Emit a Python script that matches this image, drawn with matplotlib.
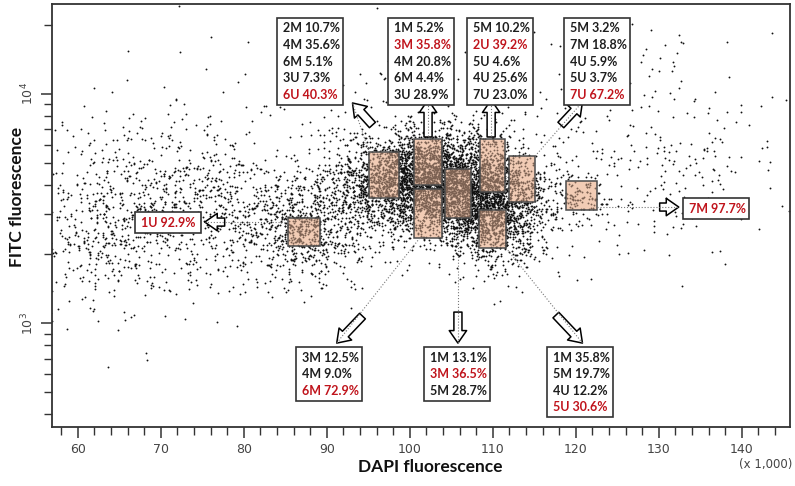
import numpy as np
import matplotlib
matplotlib.use("Agg")
import matplotlib.pyplot as plt
import matplotlib.transforms as mtransforms
from matplotlib.patches import Rectangle, FancyArrowPatch
from matplotlib.ticker import MultipleLocator, NullFormatter

# event cloud, described as a few populations (DAPI x1000, log10 FITC)
cloud_x = [104, 110, 97, 88, 72, 62, 128, 100, 120.5, 87.0]
cloud_sx = [4.5, 3.5, 3.8, 5.0, 8.0, 5.0, 9.0, 22.0, 1.6, 2.2]
cloud_logy = [3.62, 3.50, 3.62, 3.42, 3.50, 3.40, 3.70, 3.95, 3.56, 3.40]
cloud_sy = [0.11, 0.12, 0.10, 0.12, 0.18, 0.20, 0.22, 0.20, 0.06, 0.07]
cloud_n = [2800, 1800, 1000, 700, 850, 300, 250, 250, 110, 160]

# gates
gate_x0 = [85.3, 95.1, 100.5, 100.5, 104.3, 108.4, 108.3, 111.9, 118.8]
gate_x1 = [89.2, 98.7, 103.9, 103.9, 107.4, 111.5, 111.6, 115.1, 122.5]
gate_y0 = [2170, 3515, 4000, 2350, 2875, 3735, 2125, 3375, 3115]
gate_y1 = [2875, 5585, 6360, 3845, 4705, 6360, 3115, 5360, 4170]

# callouts
callout_text = [
    ["2M 10.7%", "4M 35.6%", "6M 5.1%", "3U 7.3%", "6U 40.3%"],
    ["1M 5.2%", "3M 35.8%", "4M 20.8%", "6M 4.4%", "3U 28.9%"],
    ["5M 10.2%", "2U 39.2%", "5U 4.6%", "4U 25.6%", "7U 23.0%"],
    ["5M 3.2%", "7M 18.8%", "4U 5.9%", "5U 3.7%", "7U 67.2%"],
    ["7M 97.7%"],
    ["1U 92.9%"],
    ["3M 12.5%", "4M 9.0%", "6M 72.9%"],
    ["1M 13.1%", "3M 36.5%", "5M 28.7%"],
    ["1M 35.8%", "5M 19.7%", "4U 12.2%", "5U 30.6%"],
]
callout_red = [4, 1, 1, 4, 0, 0, 2, 1, 3]
box_x = [84.0, 97.35, 106.9, 118.55, 132.9, 66.9, 86.3, 101.7, 116.5]
box_y = [21475, 21475, 21475, 21475, 3515, 3052, 786, 786, 786]

# arrows: tail -> head, and the gate point the dotted link starts from
arrow_x0 = [95.5, 102.2, 109.8, 118.2, 130.1, 77.7, 94.3, 105.8, 117.6]
arrow_y0 = [7320, 6490, 6490, 7320, 3210, 2760, 1073, 1117, 1084]
arrow_x1 = [93.1, 102.2, 109.8, 120.8, 132.4, 75.3, 91.2, 105.8, 120.8]
arrow_y1 = [9135, 9415, 9415, 9230, 3210, 2760, 818, 818, 818]
link_x = [95.1, 102.2, 109.8, 115.1, 122.5, 85.3, 101.2, 105.8, 111.6]
link_y = [5585, 6360, 6360, 5360, 3210, 2760, 2350, 2875, 2125]

rng = np.random.default_rng(7)
xs, ys = [], []
for cx, sx, cy, sy, n in zip(cloud_x, cloud_sx, cloud_logy, cloud_sy, cloud_n):
    xs.append(rng.normal(cx, sx, n))
    ys.append(10 ** rng.normal(cy, sy, n))
xs = np.concatenate(xs)
ys = np.concatenate(ys)

fig = plt.figure(figsize=(7.95, 4.86), dpi=100)
ax = fig.add_axes([0.0654, 0.1214, 0.9283, 0.8704])
ax.set_yscale("log")
ax.set_xlim(56.9, 145.8)
ax.set_ylim(352, 24700)

ax.scatter(xs, ys, s=1.8, c="#111111", linewidths=0, zorder=2)

for x0, x1, y0, y1 in zip(gate_x0, gate_x1, gate_y0, gate_y1):
    ax.add_patch(Rectangle((x0, y0), x1 - x0, y1 - y0, facecolor="#fce6d6",
                           edgecolor="none", zorder=1))
    ax.add_patch(Rectangle((x0, y0), x1 - x0, y1 - y0, facecolor="#e9b496",
                           alpha=0.5, edgecolor="none", zorder=3))
    ax.add_patch(Rectangle((x0, y0), x1 - x0, y1 - y0, facecolor="none",
                           edgecolor="#4a4a4a", lw=1.1, zorder=3.5))

txt_font = ["Lato", "DejaVu Sans"]
for i in range(len(callout_text)):
    # arrow and dotted link
    arr = FancyArrowPatch((arrow_x0[i], arrow_y0[i]), (arrow_x1[i], arrow_y1[i]),
                          arrowstyle="simple,head_length=0.9,head_width=1.25,tail_width=0.58",
                          mutation_scale=10, facecolor="white", edgecolor="black",
                          lw=1.1, shrinkA=0, shrinkB=0, zorder=6)
    ax.add_patch(arr)
    ax.plot([link_x[i], arrow_x1[i]], [link_y[i], arrow_y1[i]], ls=":", color="#777777",
            lw=0.8, zorder=7)

    # box
    lines = callout_text[i]
    w_px = 66
    h_px = len(lines) * 16.6 + 4
    trans = fig.dpi_scale_trans + mtransforms.ScaledTranslation(box_x[i], box_y[i], ax.transData)
    box = Rectangle((0, -h_px / 100), w_px / 100, h_px / 100, transform=trans,
                    facecolor="white", edgecolor="#333333", lw=1.2, zorder=8)
    ax.add_artist(box)
    for j, line in enumerate(lines):
        col = "#c0141c" if j == callout_red[i] else "#1e1e1e"
        ax.annotate(line, xy=(box_x[i], box_y[i]), xycoords="data",
                    xytext=(6 * 0.72, -(2 + 8.5 + j * 16.6) * 0.72), textcoords="offset points",
                    ha="left", va="center", fontsize=9.0, fontweight="bold",
                    family=txt_font, color=col, zorder=9)

# axes styling
for sp in ax.spines.values():
    sp.set_color("#333333")
    sp.set_linewidth(1.3)
ax.xaxis.set_major_locator(MultipleLocator(10))
ax.xaxis.set_minor_locator(MultipleLocator(2))
ax.yaxis.set_minor_formatter(NullFormatter())
ax.tick_params(which="both", direction="out", color="#333333", labelcolor="#444444")
ax.tick_params(which="major", length=8, width=1.1, labelsize=9)
ax.tick_params(which="minor", length=6, width=1.0)
ax.tick_params(axis="y", labelrotation=90)
for lab in ax.get_xticklabels() + ax.get_yticklabels():
    lab.set_family(["Liberation Sans Narrow", "DejaVu Sans"])
for lab in ax.get_yticklabels():
    lab.set_va("center")

ax.set_xlabel("DAPI fluorescence", fontsize=12.5, fontweight="bold", family=txt_font,
              color="#111111")
ax.set_ylabel("FITC fluorescence", fontsize=12.5, fontweight="bold", family=txt_font,
              color="#111111")
ax.xaxis.set_label_coords(0.512, -0.075)
ax.yaxis.set_label_coords(-0.037, 0.544)

fig.text(0.997, 0.045, "(x 1,000)", ha="right", va="center", fontsize=8.5,
         color="#444444", family=["Liberation Sans Narrow", "DejaVu Sans"])

fig.savefig("out.png", dpi=100)
